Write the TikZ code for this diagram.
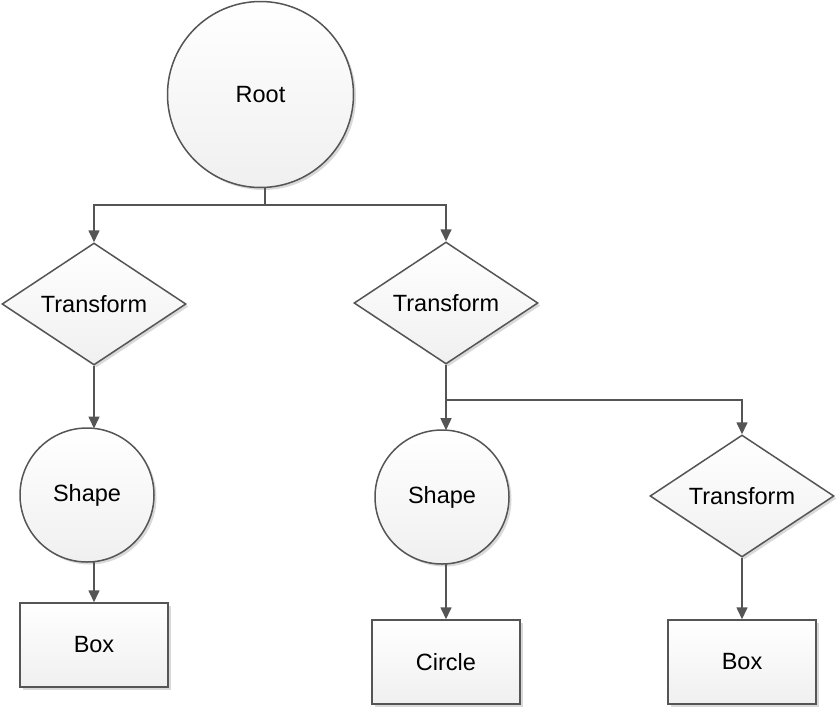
\documentclass[tikz,border=0pt]{standalone}
\usepackage{fontspec}
\setmainfont{Liberation Sans}
\usetikzlibrary{shapes.geometric,arrows.meta,shadows}
\definecolor{edgegray}{HTML}{555555}
\tikzset{
  base/.style={draw=edgegray, line width=1.5pt, top color=white, bottom color=black!6,
    drop shadow={shadow xshift=2.5pt, shadow yshift=-2.5pt, fill=black, opacity=0.15},
    font=\fontsize{23.5}{26}\selectfont, text=black, inner sep=0pt},
  circ/.style={base, circle, minimum size=#1},
  dia/.style={base, diamond, aspect=1.5, minimum width=184pt, minimum height=122pt},
  boxnode/.style={base, rectangle, minimum width=148pt, minimum height=84pt},
  conn/.style={draw=edgegray, line width=1.6pt},
  arr/.style={conn, -{Triangle[length=12pt,width=11pt]}}
}
\begin{document}
\begin{tikzpicture}[x=1pt,y=-1pt]
\fill[white] (0,0) rectangle (840,710);
\useasboundingbox (0,0) rectangle (840,710);

\node[circ=186pt] (root) at (260.5,94.5) {Root};
\node[dia] (t1) at (94,304) {Transform};
\node[dia] (t2) at (446,303) {Transform};
\node[circ=134pt] (s1) at (87,495) {Shape};
\node[circ=134pt] (s2) at (442,497) {Shape};
\node[dia] (t3) at (742,496) {Transform};
\node[boxnode] (b1) at (94,645) {Box};
\node[boxnode] (b2) at (446,662) {Circle};
\node[boxnode] (b3) at (742,662) {Box};

\coordinate (rb) at (265,205);
\coordinate (j2) at (446,400);

\draw[conn] (root.south -| rb) -- (rb);
\draw[arr] (rb) -| (t1.north);
\draw[arr] (rb) -| (t2.north);
\draw[arr] (t1.south) -- (94,428.5);
\draw[arr] (94,562) -- (b1.north);
\draw[arr] (t2.south) -- (446,430.2);
\draw[arr] (j2) -| (t3.north);
\draw[arr] (446,563.8) -- (b2.north);
\draw[arr] (t3.south) -- (b3.north);
\end{tikzpicture}
\end{document}
